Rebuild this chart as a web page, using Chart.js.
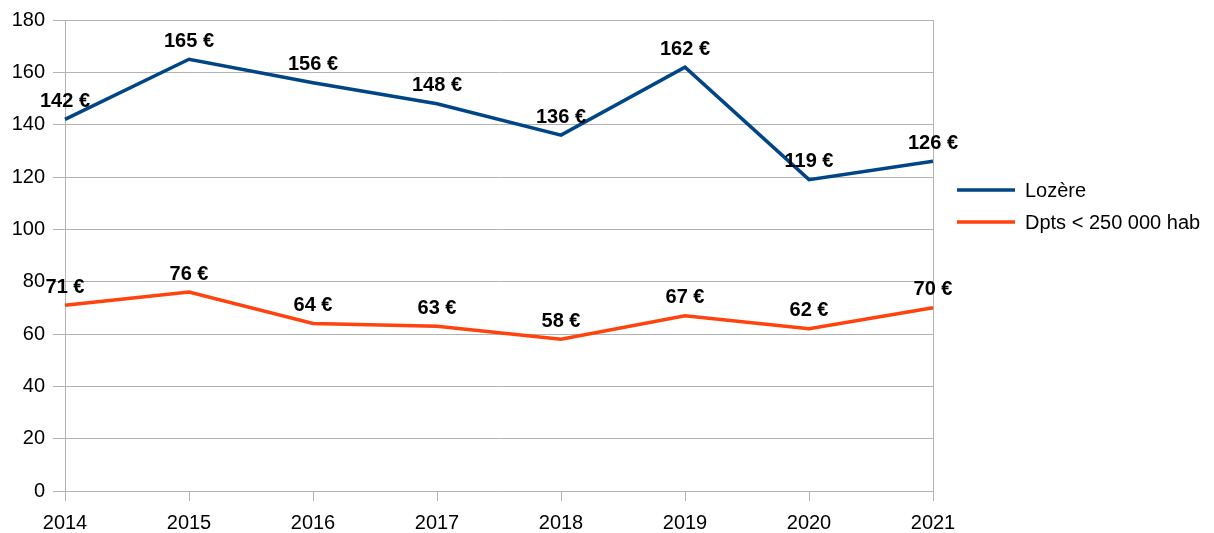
<!DOCTYPE html>
<html>
<head>
<meta charset="utf-8">
<script src="https://cdn.jsdelivr.net/npm/chart.js@4"></script>
<style>
  html, body { margin: 0; padding: 0; background: #fff; }
  #wrap { width: 1214px; height: 533px; }
</style>
</head>
<body>
<div id="wrap"><canvas id="myChart"></canvas></div>
<script>
const years = ['2014', '2015', '2016', '2017', '2018', '2019', '2020', '2021'];
const lozere = [142, 165, 156, 148, 136, 162, 119, 126];
const petitsDpts = [71, 76, 64, 63, 58, 67, 62, 70];
const seriesNames = ['Lozère', 'Dpts < 250 000 hab'];
const yTicks = { min: 0, max: 180, step: 20 };

const FONT = "'Liberation Sans', Arial, sans-serif";
const GRID = '#b3b3b3';

// value labels above each point
const valueLabels = {
    id: 'valueLabels',
    afterDatasetsDraw(chart) {
        const c = chart.ctx;
        c.save();
        c.font = 'bold 20px ' + FONT;
        c.fillStyle = '#000';
        c.textAlign = 'center';
        c.textBaseline = 'middle';
        chart.data.datasets.forEach((ds, i) => {
            chart.getDatasetMeta(i).data.forEach((pt, j) => {
                c.fillText(ds.data[j] + ' €', pt.x, pt.y - 18);
            });
        });
        c.restore();
    }
};

// legend on the right, drawn by hand
const sideLegend = {
    id: 'sideLegend',
    afterDraw(chart) {
        const c = chart.ctx;
        c.save();
        c.font = '20px ' + FONT;
        c.textBaseline = 'middle';
        c.textAlign = 'left';
        chart.data.datasets.forEach((ds, i) => {
            const y = 190 + i * 32;
            c.strokeStyle = ds.borderColor;
            c.lineWidth = 3.5;
            c.beginPath();
            c.moveTo(957, y);
            c.lineTo(1015, y);
            c.stroke();
            c.fillStyle = '#000';
            c.fillText(ds.label, 1025, y + 1);
        });
        c.restore();
    }
};

const ctx = document.getElementById('myChart');
const chartData = {
    type: 'line',
    data: {
        labels: years,
        datasets: [{
            label: seriesNames[0],
            data: lozere,
            borderColor: '#004586',
            borderWidth: 3.5,
            pointRadius: 0,
            tension: 0
        }, {
            label: seriesNames[1],
            data: petitsDpts,
            borderColor: '#ff420e',
            borderWidth: 3.5,
            pointRadius: 0,
            tension: 0
        }]
    },
    options: {
        responsive: true,
        maintainAspectRatio: false,
        animation: false,
        layout: { padding: { top: 18, right: 281, left: 0, bottom: 0 } },
        plugins: {
            legend: { display: false },
            tooltip: { enabled: false }
        },
        scales: {
            x: {
                offset: false,
                grid: {
                    color: (c) => (c.index === 0 || c.index === years.length - 1) ? GRID : 'rgba(0,0,0,0)',
                    tickColor: GRID,
                    tickLength: 10,
                    lineWidth: 1
                },
                border: { color: GRID },
                ticks: {
                    color: '#000',
                    font: { family: FONT, size: 20 },
                    padding: 10,
                    maxRotation: 0
                },
                afterFit(scale) { scale.height = 42; }
            },
            y: {
                min: yTicks.min,
                max: yTicks.max,
                grid: {
                    color: GRID,
                    tickColor: GRID,
                    tickLength: 12
                },
                border: { color: GRID },
                ticks: {
                    stepSize: yTicks.step,
                    color: '#000',
                    font: { family: FONT, size: 20 },
                    padding: 8
                },
                afterFit(scale) { scale.width = 65; }
            }
        }
    },
    plugins: [valueLabels, sideLegend]
};
const myChart = new Chart(ctx, chartData);
</script>
</body>
</html>
